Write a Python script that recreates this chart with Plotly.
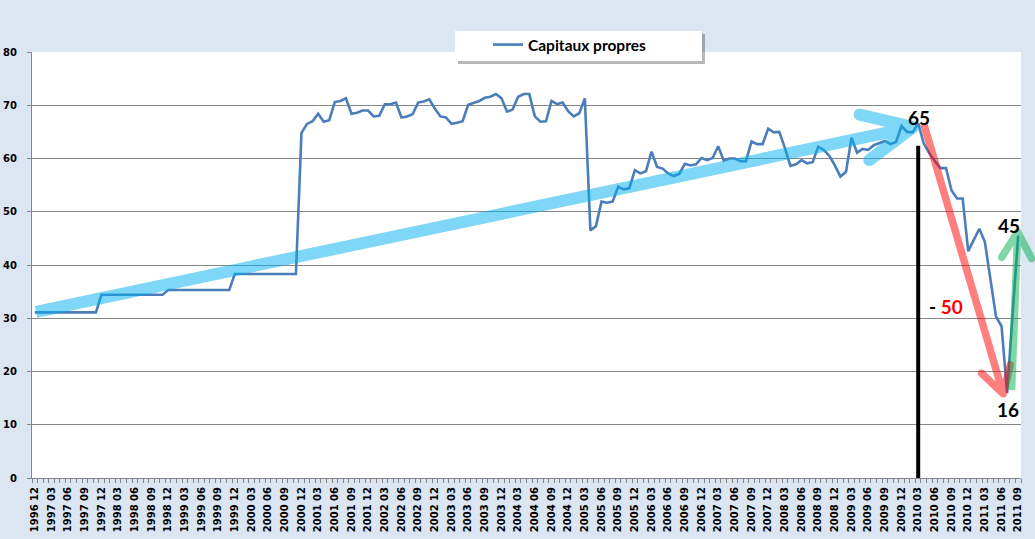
import math
import plotly.graph_objects as go

# ---------------- data ----------------
n_months = 178
months = []
_y, _m = 1996, 12
for _i in range(n_months):
    months.append(f"{_y} {_m:02d}")
    _m += 1
    if _m > 12:
        _m = 1
        _y += 1

capitaux_propres = [
    31.1, 31.1, 31.1, 31.1, 31.1, 31.1, 31.1, 31.1, 31.1, 31.1, 31.1, 31.1,
    34.4, 34.4, 34.4, 34.4, 34.4, 34.4, 34.4, 34.4, 34.4, 34.4, 34.4, 34.4,
    35.3, 35.3, 35.3, 35.3, 35.3, 35.3, 35.3, 35.3, 35.3, 35.3, 35.3, 35.3,
    38.3, 38.3, 38.3, 38.3, 38.3, 38.3, 38.3, 38.3, 38.3, 38.3, 38.3, 38.3,
    64.8, 66.5, 67.0, 68.4, 66.9, 67.2, 70.6, 70.8, 71.3, 68.4, 68.6, 69.0,
    69.0, 67.9, 68.0, 70.2, 70.2, 70.5, 67.7, 67.9, 68.3, 70.5, 70.7, 71.1,
    69.4, 67.9, 67.7, 66.5, 66.7, 67.0, 70.1, 70.5, 70.8, 71.4, 71.6, 72.1,
    71.3, 68.8, 69.2, 71.6, 72.1, 72.1, 67.9, 66.9, 67.0, 70.8, 70.2, 70.5,
    68.9, 67.9, 68.5, 71.3, 46.5, 47.3, 51.9, 51.7, 51.9, 54.7, 54.2, 54.4,
    57.8, 57.2, 57.6, 61.3, 58.4, 58.1, 57.2, 56.7, 57.1, 59.0, 58.7, 58.9,
    60.1, 59.7, 60.1, 62.3, 59.6, 60.0, 60.0, 59.5, 59.5, 63.2, 62.7, 62.7,
    65.6, 64.9, 65.0, 62.0, 58.6, 58.9, 59.7, 59.1, 59.3, 62.2, 61.6, 60.5,
    58.7, 56.6, 57.5, 63.9, 61.1, 61.8, 61.6, 62.5, 62.9, 63.3, 62.7, 63.1,
    66.1, 65.0, 64.9, 66.6, 62.8, 61.0, 59.5, 58.2, 58.2, 54.0, 52.5, 52.5,
    42.6, 44.8, 46.8, 44.3, 37.3, 30.3, 28.5, 16.0, 31.0, 45.5,
]
x_index = list(range(n_months))
tick_positions = list(range(0, n_months, 3))
tick_labels = [months[i] for i in tick_positions]
y_ticks = [0, 10, 20, 30, 40, 50, 60, 70, 80]

# annotation anchors (data coords: month index, value)
blue_arrow = ((0.22, 31.2), (158.1, 65.9))
red_arrow = ((160.0, 66.5), (174.3, 15.8))
green_arrow = ((175.8, 16.5), (176.9, 46.2))
marker_2010_03 = (159, 62.4)

# ---------------- layout geometry ----------------
W, H = 1035, 539
ML, MR, MT, MB = 32, 14, 52, 61
PW, PH = W - ML - MR, H - MT - MB
XR = (-0.5, n_months - 0.5)
YR = (0, 80)


def d2px(x, y):
    px = ML + (x - XR[0]) / (XR[1] - XR[0]) * PW
    py = MT + (YR[1] - y) / (YR[1] - YR[0]) * PH
    return px, py


def px2paper(px, py):
    return (px - ML) / PW, (H - MB - py) / PH


def capsule(P, Q, r, round_p=True, round_q=True, n=10):
    dx, dy = Q[0] - P[0], Q[1] - P[1]
    L = math.hypot(dx, dy)
    ux, uy = dx / L, dy / L
    nx, ny = -uy, ux
    au = math.atan2(uy, ux)
    pts = [(P[0] + r * nx, P[1] + r * ny), (Q[0] + r * nx, Q[1] + r * ny)]
    if round_q:
        for k in range(1, n):
            t = au + math.pi / 2 - math.pi * k / n
            pts.append((Q[0] + r * math.cos(t), Q[1] + r * math.sin(t)))
    pts.append((Q[0] - r * nx, Q[1] - r * ny))
    pts.append((P[0] - r * nx, P[1] - r * ny))
    if round_p:
        for k in range(1, n):
            t = au - math.pi / 2 - math.pi * k / n
            pts.append((P[0] + r * math.cos(t), P[1] + r * math.sin(t)))
    return pts


def arrow_path(start, tip, width, arm_len, half_angle_deg):
    S = d2px(*start)
    T = d2px(*tip)
    r = width / 2
    polys = [capsule(S, T, r, round_p=False, round_q=False)]
    dx, dy = S[0] - T[0], S[1] - T[1]
    base = math.atan2(dy, dx)
    for sgn in (-1, 1):
        a = base + sgn * math.radians(half_angle_deg)
        A = (T[0] + arm_len * math.cos(a), T[1] + arm_len * math.sin(a))
        polys.append(capsule(A, T, r))
    path = ""
    for poly in polys:
        pp = [px2paper(*p) for p in poly]
        path += "M" + " L".join(f"{x:.5f},{y:.5f}" for x, y in pp) + " Z "
    return path


fig = go.Figure()
fig.add_trace(go.Scatter(
    x=x_index, y=capitaux_propres, mode="lines", name="Capitaux propres",
    line=dict(color="#4A7EBB", width=2.6), text=months,
    hovertemplate="%{text}: %{y}<extra></extra>",
))

shapes = []
# legend shadow + box
lx0, ly0, lx1, ly1 = 455, 31, 702, 61
sx0, sy0 = px2paper(lx0 + 3, ly1 + 3)
sx1, sy1 = px2paper(lx1 + 3, ly0 + 3)
shapes.append(dict(type="rect", xref="paper", yref="paper", x0=sx0, y0=sy0, x1=sx1, y1=sy1,
                   fillcolor="rgba(0,0,0,0.28)", line=dict(width=0), layer="above"))
bx0, by0 = px2paper(lx0, ly1)
bx1, by1 = px2paper(lx1, ly0)
shapes.append(dict(type="rect", xref="paper", yref="paper", x0=bx0, y0=by0, x1=bx1, y1=by1,
                   fillcolor="white", line=dict(width=0), layer="above"))
# vertical marker line
shapes.append(dict(type="line", xref="x", yref="y", x0=marker_2010_03[0], x1=marker_2010_03[0],
                   y0=0, y1=marker_2010_03[1], line=dict(color="black", width=4), layer="above"))
# arrows
for arr, wdt, alen, ang, col in [
    (blue_arrow, 12, 55, 25, "rgba(0,176,240,0.5)"),
    (red_arrow, 7.5, 30, 30, "rgba(255,0,0,0.5)"),
    (green_arrow, 7.5, 30, 30, "rgba(0,176,80,0.5)"),
]:
    shapes.append(dict(type="path", xref="paper", yref="paper",
                       path=arrow_path(*arr, wdt, alen, ang), fillrule="nonzero",
                       fillcolor=col, line=dict(width=0), layer="above"))

big = dict(family="Lato", size=19, color="black", weight="bold")
annotations = [
    dict(x=159.06, y=67.7, xref="x", yref="y", text="65", showarrow=False, font=big),
    dict(x=175.1, y=12.9, xref="x", yref="y", text="16", showarrow=False, font=big),
    dict(x=175.4, y=47.5, xref="x", yref="y", text="45", showarrow=False, font=big),
    dict(x=164.0, y=32.3, xref="x", yref="y",
         text="<span style='color:black'>-</span> <span style='color:red'>50</span>",
         showarrow=False, font=dict(family="Lato", size=19, color="red", weight="bold")),
]

legx, legy = px2paper(488, 28)
tickfont = dict(family="DejaVu Sans", size=10, color="black", weight="bold")
fig.update_layout(
    width=W, height=H,
    margin=dict(l=ML, r=MR, t=MT, b=MB, pad=0, autoexpand=False),
    paper_bgcolor="#DCE6F2", plot_bgcolor="white",
    showlegend=True,
    legend=dict(x=legx, y=legy, xanchor="left", yanchor="top", bgcolor="rgba(0,0,0,0)",
                borderwidth=0, font=dict(family="Lato", size=15.5, color="black", weight="bold")),
    shapes=shapes, annotations=annotations,
    xaxis=dict(range=list(XR), tickmode="array", tickvals=tick_positions, ticktext=tick_labels,
               tickangle=-90, ticks="", showgrid=False, zeroline=False, automargin=False,
               showline=True, linecolor="#868686", linewidth=1, tickfont=tickfont,
               ticklabelstandoff=4,
               minor=dict(tickmode="linear", tick0=-0.5, dtick=1, ticks="outside",
                          ticklen=4, tickcolor="#868686", showgrid=False)),
    yaxis=dict(range=list(YR), tickmode="array", tickvals=y_ticks, ticks="outside", ticklen=4,
               tickcolor="#868686", showgrid=True, gridcolor="#868686", gridwidth=1,
               zeroline=False, showline=True, linecolor="#868686", linewidth=1, automargin=False,
               tickfont=tickfont, ticklabelstandoff=8),
)

fig.write_html("out.html", post_script="document.body.style.margin='0';",
               config={"displayModeBar": False})
